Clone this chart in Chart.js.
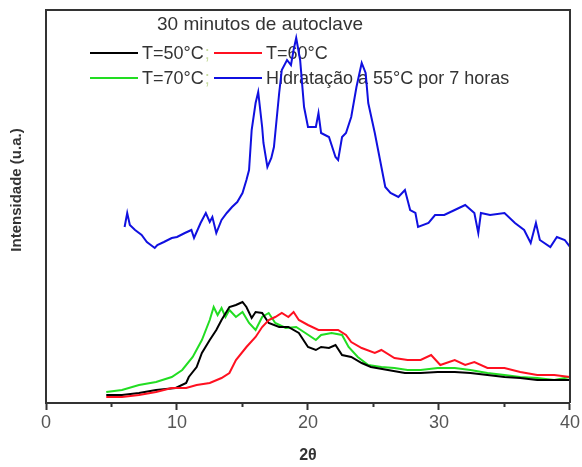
<!DOCTYPE html>
<html>
<head>
<meta charset="utf-8">
<script src="https://cdn.jsdelivr.net/npm/chart.js@4"></script>
<style>body{margin:0;background:#fff}</style>
</head>
<body>
<canvas id="xrd" width="582" height="467"></canvas>
<script>
// 2θ / intensidade (u.a. arbitrárias)
const blueX = [6.0,6.2,6.4,6.8,7.3,7.7,8.3,8.5,9.0,9.6,10.0,10.6,11.1,11.3,11.8,12.2,12.5,12.7,13.0,13.4,13.8,14.2,14.6,15.0,15.3,15.5,15.7,16.0,16.2,16.5,16.6,16.9,17.2,17.4,17.8,18.0,18.4,18.7,18.9,19.1,19.4,19.7,20.0,20.6,20.8,21.0,21.6,22.1,22.3,22.6,22.9,23.3,23.7,24.1,24.4,24.6,25.1,25.5,25.9,26.3,26.9,27.4,27.8,28.2,28.4,29.2,29.7,30.4,31.2,32.0,32.7,33.0,33.2,33.9,35.0,35.8,36.5,37.0,37.4,37.7,38.5,39.0,39.6,40.0];
const blueY = [176,190,178,173,168,161,155,158,161,165,166,170,173,165,180,190,181,186,170,183,190,196,201,210,223,233,273,300,311,276,260,236,245,256,310,333,343,338,353,365,343,296,276,276,290,270,266,246,243,266,270,286,316,340,330,300,270,243,216,210,206,213,193,190,176,180,188,188,193,198,190,170,190,188,190,180,173,160,180,163,156,166,163,156];

const blackX = [4.6,5.8,7.1,8.4,9.9,10.7,10.9,11.5,11.9,12.5,13.0,13.4,14.0,14.5,15.0,15.3,15.7,16.0,16.5,17.0,17.8,18.5,19.3,20.0,20.6,21.0,21.6,22.1,22.6,23.3,24.1,24.8,26.1,27.4,28.6,29.9,31.2,32.4,33.7,35.0,36.2,37.5,38.8,40.0];
const blackY = [8,8,10,13,15,20,26,36,50,63,73,83,96,98,101,96,85,91,90,80,76,76,70,56,53,56,55,58,48,46,40,36,33,30,30,31,31,30,28,26,25,23,23,23];

const greenX = [4.6,5.8,7.1,8.4,9.6,10.4,11.2,11.9,12.5,12.8,13.1,13.4,13.7,14.0,14.5,15.0,15.5,16.0,16.5,17.0,17.5,18.3,19.1,19.8,20.6,21.0,21.8,22.6,23.1,23.8,24.6,25.6,26.6,27.6,28.6,29.9,31.2,32.4,33.7,35.0,36.2,37.5,38.8,40.0];
const greenY = [11,13,18,21,26,33,46,63,83,96,88,95,86,93,86,91,80,73,86,90,80,75,76,70,63,68,70,68,56,46,38,36,35,33,33,35,35,33,30,28,26,25,23,26];

const redX = [4.6,5.8,7.1,8.4,9.6,10.7,11.5,12.5,13.4,14.0,14.5,15.3,16.0,16.5,17.0,17.5,18.0,18.5,18.9,19.3,20.0,20.8,21.6,22.3,22.9,23.3,24.1,25.1,25.6,26.6,27.6,28.6,29.4,30.1,31.2,32.0,32.7,33.7,35.0,36.2,37.5,38.8,40.0];
const redY = [6,6,8,11,15,15,18,20,25,30,43,56,66,76,83,86,90,86,91,83,78,73,73,73,68,61,55,50,53,45,43,43,48,38,43,38,41,35,35,31,28,28,26];

const xTicks = [0, 10, 20, 30, 40];
const minorTicks = [5, 15, 25, 35];

const legendTitle = "30 minutos de autoclave";
const legendItems = [
  { label: "T=50°C", sep: ";", color: "#000000" },
  { label: "T=60°C", sep: "", color: "#ff1020" },
  { label: "T=70°C", sep: ";", color: "#22dd22" },
  { label: "Hidratação a 55°C por 7 horas", sep: "", color: "#1010e0" },
];

function pts(xs, ys) {
  return xs.map((x, i) => ({ x, y: ys[i] }));
}

const legendPlugin = {
  id: "legenda",
  beforeDatasetsDraw(chart) {
    const c = chart.ctx;
    c.save();
    c.fillStyle = "#333";
    c.font = "19px 'Liberation Sans', Arial, sans-serif";
    c.textBaseline = "middle";
    c.fillText(legendTitle, 157, 25);
    c.font = "18px 'Liberation Sans', Arial, sans-serif";
    const cols = [90, 214];
    const rows = [53, 78];
    legendItems.forEach((it, i) => {
      const x = cols[i % 2];
      const y = rows[Math.floor(i / 2)];
      c.strokeStyle = it.color;
      c.lineWidth = 2;
      c.beginPath();
      c.moveTo(x, y);
      c.lineTo(x + 48, y);
      c.stroke();
      c.fillStyle = "#333";
      c.fillText(it.label, x + 52, y + 1);
      if (it.sep) {
        const w = c.measureText(it.label).width;
        c.fillStyle = "#c8dca0";
        c.fillText(it.sep, x + 52 + w + 1, y + 1);
      }
    });
    c.restore();
  },
};

const framePlugin = {
  id: "moldura",
  afterDraw(chart) {
    const c = chart.ctx;
    const a = chart.chartArea;
    const xs = chart.scales.x;
    c.save();
    c.strokeStyle = "#333";
    c.lineWidth = 2;
    c.beginPath();
    c.moveTo(a.left, a.top);
    c.lineTo(a.right, a.top);
    c.lineTo(a.right, a.bottom);
    c.stroke();
    // ticks menores
    minorTicks.forEach((v) => {
      const px = xs.getPixelForValue(v);
      c.beginPath();
      c.moveTo(px, a.bottom);
      c.lineTo(px, a.bottom + 4);
      c.stroke();
    });
    // titulo do eixo y
    c.translate(17, 190);
    c.rotate(-Math.PI / 2);
    c.fillStyle = "#333";
    c.font = "bold 15px 'Liberation Sans', Arial, sans-serif";
    c.textAlign = "center";
    c.textBaseline = "middle";
    c.fillText("Intensidade (u.a.)", 0, 0);
    c.restore();
  },
};

new Chart(document.getElementById("xrd"), {
  type: "line",
  data: {
    datasets: [
      { data: pts(redX, redY), borderColor: "#ff1020" },
      { data: pts(blackX, blackY), borderColor: "#000000" },
      { data: pts(greenX, greenY), borderColor: "#22dd22" },
      { data: pts(blueX, blueY), borderColor: "#1010e0" },
    ],
  },
  options: {
    responsive: false,
    animation: false,
    layout: { autoPadding: false, padding: { top: 10, right: 7, left: 0, bottom: 0 } },
    elements: {
      line: { borderWidth: 2, tension: 0 },
      point: { radius: 0 },
    },
    plugins: { legend: { display: false }, tooltip: { enabled: false } },
    scales: {
      x: {
        type: "linear",
        min: 0,
        max: 40,
        afterFit: (s) => { s.height = 64; },
        afterBuildTicks: (s) => { s.ticks = xTicks.map((v) => ({ value: v })); },
        ticks: { color: "#555", font: { size: 18, family: "'Liberation Sans', Arial" }, padding: 2, maxRotation: 0 },
        grid: { drawOnChartArea: false, tickLength: 7, tickColor: "#333", tickWidth: 2 },
        border: { color: "#333", width: 2 },
        title: { display: true, text: "2θ", color: "#333", font: { size: 16, weight: "bold", family: "'Liberation Sans', Arial" }, padding: { top: 0, bottom: 2 } },
      },
      y: {
        min: 0,
        max: 393,
        afterFit: (s) => { s.width = 46; },
        ticks: { display: false },
        grid: { display: false },
        border: { color: "#333", width: 2 },
      },
    },
  },
  plugins: [legendPlugin, framePlugin],
});
</script>
</body>
</html>
